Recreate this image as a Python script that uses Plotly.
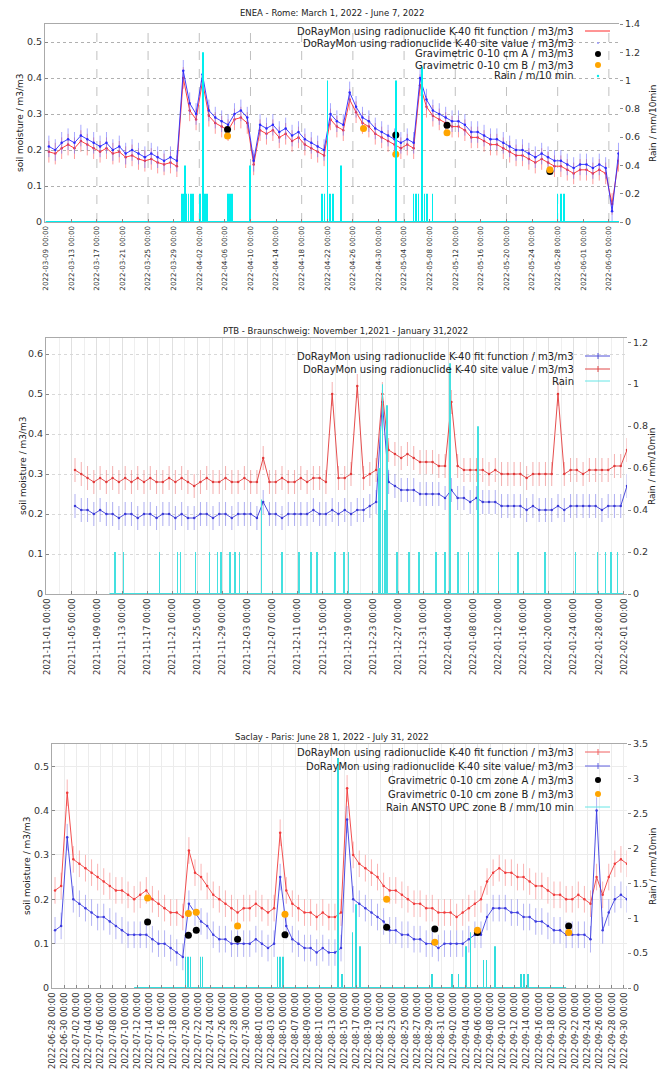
import plotly.graph_objects as go
import pandas as pd

W, H = 672, 1075

# ------------------------------------------------------------------ DATA
# Panel 1 : ENEA - Rome (daily readings, noon)
p1_dates = pd.date_range("2022-03-09 12:00", "2022-06-06 12:00", freq="D")
p1_site = (  # blue, site value
    [0.21, 0.20, 0.22, 0.23, 0.22, 0.24, 0.23, 0.22, 0.21, 0.22, 0.20, 0.21, 0.19, 0.20, 0.19,
     0.18, 0.19, 0.18, 0.17, 0.18, 0.17, 0.42, 0.33]  # Mar 9-31
    + [0.30, 0.41, 0.31, 0.29, 0.28, 0.27, 0.30, 0.31, 0.29, 0.17, 0.27, 0.26, 0.27, 0.25, 0.26,
       0.24, 0.25, 0.23, 0.22, 0.21, 0.20, 0.30, 0.28, 0.27, 0.36, 0.32, 0.29, 0.28, 0.26, 0.25]  # Apr
    + [0.24, 0.23, 0.22, 0.23, 0.22, 0.40, 0.34, 0.31, 0.30, 0.29, 0.28, 0.28, 0.27, 0.25, 0.25,
       0.24, 0.23, 0.23, 0.22, 0.21, 0.20, 0.20, 0.19, 0.18, 0.19, 0.18, 0.17, 0.17, 0.16, 0.15,
       0.16]  # May
    + [0.16, 0.15, 0.16, 0.15, 0.03, 0.19]  # Jun 1-6
)
p1_fit = (  # red, fit function
    [0.195, 0.19, 0.205, 0.215, 0.205, 0.225, 0.215, 0.205, 0.195, 0.205, 0.19, 0.195, 0.18, 0.185,
     0.175, 0.17, 0.175, 0.165, 0.16, 0.165, 0.155, 0.40, 0.31]
    + [0.285, 0.39, 0.295, 0.275, 0.265, 0.255, 0.285, 0.29, 0.275, 0.16, 0.255, 0.245, 0.255, 0.235,
       0.245, 0.225, 0.235, 0.215, 0.205, 0.195, 0.185, 0.285, 0.265, 0.255, 0.34, 0.305, 0.275,
       0.265, 0.245, 0.235]
    + [0.225, 0.215, 0.205, 0.215, 0.205, 0.38, 0.32, 0.295, 0.285, 0.275, 0.265, 0.265, 0.255,
       0.235, 0.235, 0.225, 0.215, 0.215, 0.205, 0.195, 0.185, 0.185, 0.175, 0.165, 0.175, 0.165,
       0.155, 0.155, 0.145, 0.135, 0.145]
    + [0.145, 0.135, 0.145, 0.135, 0.05, 0.17]
)
p1_gravA_dates = ["2022-04-06 10:00", "2022-05-02 17:00", "2022-05-10 17:00", "2022-05-26 19:00"]
p1_gravA = [0.257, 0.242, 0.269, 0.140]
p1_gravB_dates = ["2022-04-06 10:00", "2022-04-27 16:00", "2022-05-02 17:00", "2022-05-10 17:00",
                  "2022-05-26 19:00"]
p1_gravB = [0.239, 0.260, 0.188, 0.248, 0.145]
p1_rain_times = ["2022-03-30 06:00", "2022-03-30 12:00", "2022-03-30 18:00", "2022-03-31 00:00",
                 "2022-03-31 08:00", "2022-03-31 16:00", "2022-04-01 00:00", "2022-04-02 02:00",
                 "2022-04-02 14:00", "2022-04-02 22:00", "2022-04-03 05:00", "2022-04-06 12:00",
                 "2022-04-06 20:00", "2022-04-07 02:00", "2022-04-09 22:00", "2022-04-21 05:00",
                 "2022-04-21 14:00", "2022-04-22 01:00", "2022-04-22 10:00", "2022-04-22 22:00",
                 "2022-04-24 03:00", "2022-05-02 17:00", "2022-05-05 12:00", "2022-05-05 20:00",
                 "2022-05-06 06:00", "2022-05-06 19:00", "2022-05-07 04:00", "2022-05-07 14:00",
                 "2022-05-08 10:00", "2022-05-28 00:00", "2022-05-28 12:00", "2022-05-29 00:00"]
p1_rain = [0.2, 0.2, 0.4, 0.2, 0.2, 0.2, 0.2, 0.2, 1.2, 0.2, 0.2, 0.2, 0.2, 0.2, 0.4, 0.2,
           0.2, 1.0, 0.2, 0.2, 0.4, 1.0, 0.2, 0.2, 0.2, 1.1, 0.2, 0.2, 0.2, 0.2, 0.2, 0.2]
p1_rain_span = ["2022-03-09 00:00", "2022-06-06 14:00"]

# Panel 2 : PTB - Braunschweig
p2_dates = pd.date_range("2021-11-05 12:00", "2022-02-01 12:00", freq="D")
p2_fit = (  # blue, fit function
    [0.22, 0.21, 0.21, 0.20, 0.21, 0.20, 0.20, 0.19, 0.20, 0.20, 0.19, 0.20, 0.20, 0.19, 0.20,
     0.20, 0.19, 0.20, 0.19, 0.19, 0.20, 0.20, 0.19, 0.20, 0.20, 0.19]  # Nov 5-30
    + [0.20, 0.20, 0.20, 0.19, 0.23, 0.20, 0.20, 0.19, 0.20, 0.20, 0.20, 0.20, 0.21, 0.20, 0.20,
       0.21, 0.20, 0.21, 0.20, 0.21, 0.21, 0.22, 0.23, 0.48, 0.28, 0.27, 0.26, 0.26, 0.26, 0.25,
       0.25]  # Dec
    + [0.25, 0.25, 0.24, 0.26, 0.24, 0.24, 0.23, 0.24, 0.23, 0.23, 0.23, 0.22, 0.22, 0.22, 0.22,
       0.21, 0.22, 0.21, 0.21, 0.21, 0.22, 0.21, 0.22, 0.22, 0.22, 0.22, 0.22, 0.21, 0.22, 0.22,
       0.22]  # Jan
    + [0.27]
)
p2_site = (  # red, site value
    [0.31, 0.30, 0.29, 0.28, 0.29, 0.28, 0.29, 0.28, 0.29, 0.28, 0.29, 0.28, 0.29, 0.28, 0.28,
     0.29, 0.28, 0.29, 0.28, 0.27, 0.28, 0.29, 0.28, 0.28, 0.29, 0.28]
    + [0.28, 0.29, 0.28, 0.28, 0.34, 0.28, 0.28, 0.29, 0.28, 0.28, 0.29, 0.28, 0.29, 0.29, 0.28,
       0.50, 0.29, 0.29, 0.30, 0.52, 0.29, 0.30, 0.31, 0.50, 0.36, 0.35, 0.34, 0.35, 0.34, 0.33,
       0.33]
    + [0.33, 0.32, 0.32, 0.48, 0.32, 0.31, 0.31, 0.31, 0.31, 0.30, 0.31, 0.30, 0.30, 0.30, 0.30,
       0.29, 0.30, 0.30, 0.30, 0.30, 0.50, 0.30, 0.31, 0.31, 0.30, 0.31, 0.31, 0.31, 0.31, 0.32,
       0.32]
    + [0.36]
)
p2_rain_times = ["2021-11-11 20:00", "2021-11-13 06:00", "2021-11-18 23:00", "2021-11-21 20:00",
                 "2021-11-22 07:00", "2021-11-24 17:00", "2021-11-26 22:00", "2021-11-28 05:00",
                 "2021-11-28 19:00", "2021-11-30 06:00", "2021-12-01 01:00", "2021-12-01 17:00",
                 "2021-12-05 05:00", "2021-12-08 12:00", "2021-12-11 05:00", "2021-12-13 02:00",
                 "2021-12-14 01:00", "2021-12-16 22:00", "2021-12-18 08:00", "2021-12-19 03:00",
                 "2021-12-23 22:00", "2021-12-24 05:00", "2021-12-24 12:00", "2021-12-24 21:00",
                 "2021-12-25 05:00", "2021-12-26 19:00", "2021-12-28 17:00", "2021-12-30 07:00",
                 "2022-01-02 00:00", "2022-01-03 12:00", "2022-01-04 07:00", "2022-01-05 14:00",
                 "2022-01-07 05:00", "2022-01-08 19:00", "2022-01-12 00:00", "2022-01-15 02:00",
                 "2022-01-19 10:00", "2022-01-24 07:00", "2022-01-27 19:00", "2022-01-29 02:00",
                 "2022-01-30 00:00", "2022-01-31 00:00"]
p2_rain = [0.2, 0.2, 0.2, 0.2, 0.2, 0.2, 0.2, 0.2, 0.2, 0.2, 0.2, 0.2, 0.45, 0.2, 0.2, 0.2,
           0.2, 0.2, 0.2, 0.2, 0.6, 0.8, 1.0, 0.4, 0.9, 0.2, 0.2, 0.2, 0.2, 0.2, 1.1, 0.2,
           0.2, 0.8, 0.2, 0.2, 0.2, 0.2, 0.2, 0.2, 0.2, 0.2]
p2_rain_span = ["2021-11-11 00:00", "2022-02-01 00:00"]

# Panel 3 : Saclay - Paris
p3_dates = pd.date_range("2022-06-28 12:00", "2022-09-30 12:00", freq="D")
p3_fit = (  # red, fit function
    [0.22, 0.23, 0.44]
    + [0.29, 0.28, 0.27, 0.26, 0.25, 0.24, 0.23, 0.22, 0.22, 0.21, 0.20, 0.21, 0.22, 0.20, 0.19,
       0.18, 0.17, 0.17, 0.16, 0.31, 0.26, 0.25, 0.23, 0.21, 0.20, 0.19, 0.18, 0.17, 0.18, 0.18,
       0.19]
    + [0.18, 0.17, 0.18, 0.35, 0.22, 0.19, 0.18, 0.17, 0.17, 0.16, 0.17, 0.16, 0.16, 0.17, 0.45,
       0.30, 0.28, 0.27, 0.26, 0.25, 0.23, 0.22, 0.22, 0.21, 0.20, 0.19, 0.19, 0.18, 0.18, 0.17,
       0.17]
    + [0.17, 0.16, 0.17, 0.18, 0.19, 0.20, 0.24, 0.26, 0.27, 0.26, 0.26, 0.25, 0.25, 0.24, 0.23,
       0.23, 0.22, 0.21, 0.21, 0.20, 0.20, 0.21, 0.20, 0.19, 0.25, 0.21, 0.25, 0.28, 0.29, 0.28]
)
p3_site = (  # blue, site value
    [0.13, 0.14, 0.34]
    + [0.20, 0.19, 0.18, 0.17, 0.16, 0.16, 0.15, 0.14, 0.13, 0.12, 0.12, 0.12, 0.12, 0.11, 0.10,
       0.10, 0.09, 0.08, 0.07, 0.19, 0.17, 0.15, 0.14, 0.12, 0.11, 0.11, 0.10, 0.10, 0.10, 0.10,
       0.11]
    + [0.10, 0.09, 0.10, 0.25, 0.14, 0.11, 0.10, 0.09, 0.09, 0.08, 0.09, 0.08, 0.08, 0.09, 0.38,
       0.20, 0.19, 0.18, 0.17, 0.16, 0.15, 0.13, 0.13, 0.12, 0.12, 0.11, 0.11, 0.10, 0.10, 0.09,
       0.10]
    + [0.10, 0.10, 0.10, 0.11, 0.12, 0.12, 0.16, 0.18, 0.18, 0.18, 0.17, 0.17, 0.16, 0.16, 0.15,
       0.15, 0.14, 0.13, 0.13, 0.12, 0.12, 0.12, 0.12, 0.11, 0.40, 0.13, 0.17, 0.20, 0.21, 0.20]
)
p3_grav_dates = ["2022-07-13 17:00", "2022-07-20 10:00", "2022-07-21 17:00", "2022-07-28 12:00",
                 "2022-08-05 07:00", "2022-08-22 00:00", "2022-08-29 22:00", "2022-09-05 22:00",
                 "2022-09-20 22:00"]
p3_gravA = [0.149, 0.119, 0.130, 0.110, 0.120, 0.137, 0.133, 0.125, 0.140]
p3_gravB = [0.203, 0.168, 0.171, 0.140, 0.166, 0.200, 0.103, 0.130, 0.125]
p3_rain_times = ["2022-07-19 23:00", "2022-07-20 08:00", "2022-07-20 19:00", "2022-07-22 10:00",
                 "2022-07-22 17:00", "2022-08-04 02:00", "2022-08-04 12:00", "2022-08-04 22:00",
                 "2022-08-14 00:00", "2022-08-14 15:00", "2022-08-16 10:00", "2022-08-16 22:00",
                 "2022-08-17 14:00", "2022-08-29 10:00", "2022-09-01 17:00", "2022-09-02 19:00",
                 "2022-09-04 02:00", "2022-09-04 19:00", "2022-09-06 22:00", "2022-09-07 10:00",
                 "2022-09-08 19:00", "2022-09-13 02:00", "2022-09-13 14:00", "2022-09-14 05:00"]
p3_rain = [0.45, 0.45, 0.45, 0.45, 0.45, 0.45, 0.45, 0.45, 3.3, 0.2, 0.8, 1.2, 0.6, 0.2, 0.2,
           0.2, 0.6, 0.8, 0.4, 0.4, 0.6, 0.2, 0.2, 0.2]
p3_rain_span = ["2022-07-11 12:00", "2022-09-20 12:00"]

assert len(p1_dates) == len(p1_site) == len(p1_fit)
assert len(p2_dates) == len(p2_site) == len(p2_fit)
assert len(p3_dates) == len(p3_site) == len(p3_fit)
assert len(p1_rain_times) == len(p1_rain)
assert len(p2_rain_times) == len(p2_rain)
assert len(p3_rain_times) == len(p3_rain)

UNC = 0.03  # plotted uncertainty of the DoRayMon values (m3/m3)

# ------------------------------------------------------------------ STYLE
FONT = "DejaVu Sans"
RED = "#ff2a2a"
BLUE = "#2a2aff"
CYAN = "#00eeee"
HOUR = 3600 * 1000


def fx(px):
    return px / W


def fy(py):
    return 1 - py / H


fig = go.Figure()


def soil(x, y, color, err_color, xa, ya):
    fig.add_trace(go.Scatter(
        x=x, y=y, mode="lines+markers", xaxis=xa, yaxis=ya, showlegend=False,
        line=dict(color=color, width=0.9),
        marker=dict(size=2.5, color=color),
        error_y=dict(type="constant", value=UNC, color=err_color, thickness=1, width=0)))


def rain(times, vals, span, color, xa, ya, bw):
    fig.add_trace(go.Scatter(x=span, y=[0, 0], mode="lines", xaxis=xa, yaxis=ya,
                             line=dict(color=color, width=2), showlegend=False))
    fig.add_trace(go.Bar(x=times, y=vals, xaxis=xa, yaxis=ya, width=bw * HOUR,
                         marker=dict(color=color, line=dict(width=0)), showlegend=False))


def grav(x, y, color, xa, ya):
    fig.add_trace(go.Scatter(x=x, y=y, mode="markers", xaxis=xa, yaxis=ya, showlegend=False,
                             marker=dict(size=7, color=color)))


# Panel 1
soil(p1_dates, p1_fit, RED, "rgba(255,90,90,0.6)", "x", "y")
soil(p1_dates, p1_site, BLUE, "rgba(110,110,255,0.6)", "x", "y")
grav(p1_gravA_dates, p1_gravA, "black", "x", "y")
grav(p1_gravB_dates, p1_gravB, "#ffa500", "x", "y")
rain(p1_rain_times, p1_rain, p1_rain_span, CYAN, "x", "y2", 2.5)

# Panel 2
soil(p2_dates, p2_fit, "#3a3ad8", "rgba(110,110,230,0.55)", "x2", "y3")
soil(p2_dates, p2_site, "#e23a3a", "rgba(235,110,110,0.55)", "x2", "y3")
rain(p2_rain_times, p2_rain, p2_rain_span, "#44e0e0", "x2", "y4", 2.5)

# Panel 3
soil(p3_dates, p3_fit, "#f03c3c", "rgba(245,120,120,0.55)", "x3", "y5")
soil(p3_dates, p3_site, "#3c3ce0", "rgba(120,120,235,0.55)", "x3", "y5")
grav(p3_grav_dates, p3_gravA, "black", "x3", "y5")
grav(p3_grav_dates, p3_gravB, "#ffa500", "x3", "y5")
rain(p3_rain_times, p3_rain, p3_rain_span, "#33dddd", "x3", "y6", 2.5)

# ------------------------------------------------------------------ AXES
tickfont_y = dict(family=FONT, size=9.5, color="#333")


def xaxis(dom, anchor, rng, ticks, fsize, grid, gridcolor="#e4e4e4", minor=None):
    d = dict(domain=dom, anchor=anchor, type="date", range=rng, tickmode="array",
             tickvals=ticks, tickformat="%Y-%m-%d %H:%M", tickangle=-90,
             tickfont=dict(family=FONT, size=fsize, color="#333"),
             ticks="inside", ticklen=3, tickcolor="#888",
             showline=True, mirror=True, linecolor="#aaaaaa", linewidth=1,
             showgrid=grid, gridcolor=gridcolor, zeroline=False, automargin=False)
    if minor:
        d["minor"] = minor
    return d


def yleft(dom, anchor, rng, dtick, gridcolor, griddash):
    return dict(domain=dom, anchor=anchor, range=rng, dtick=dtick, tick0=0,
                tickfont=tickfont_y, ticks="inside", ticklen=3, tickcolor="#888",
                showline=True, linecolor="#aaaaaa", showgrid=True, gridcolor=gridcolor,
                griddash=griddash, zeroline=False, automargin=False)


def yright(over, anchor, rng, dtick):
    return dict(overlaying=over, anchor=anchor, side="right", range=rng, dtick=dtick, tick0=0,
                tickfont=tickfont_y, ticks="outside", ticklen=3, tickcolor="#888",
                showgrid=False, zeroline=False, showline=False, automargin=False)


p1_ticks = pd.date_range("2022-03-09", "2022-06-05", freq="4D")
p2_ticks = pd.date_range("2021-11-01", "2022-02-01", freq="4D")
p3_ticks = pd.date_range("2022-06-28", "2022-09-30", freq="2D")

fig.update_layout(
    width=W, height=H, margin=dict(l=0, r=0, t=0, b=0),
    paper_bgcolor="white", plot_bgcolor="white", showlegend=False, barmode="overlay",
    xaxis=xaxis([fx(45), fx(619)], "y", ["2022-03-08 21:30", "2022-06-06 14:00"], p1_ticks, 7.2,
                False),
    yaxis=yleft([fy(222), fy(24)], "x", [0, 0.55], 0.1, "#b0b0b0", "dot"),
    yaxis2=yright("y", "x", [0, 1.4], 0.2),
    xaxis2=xaxis([fx(46), fx(627)], "y3", ["2021-10-31 21:00", "2022-02-01 12:00"], p2_ticks, 8.5,
                 True, "#e0e0e0",
                 minor=dict(dtick=2 * 86400000, tick0="2021-11-01", showgrid=True,
                            gridcolor="#efefef", ticklen=0)),
    yaxis3=yleft([fy(594), fy(338)], "x2", [0, 0.64], 0.1, "#d8d8d8", "dot"),
    yaxis4=yright("y3", "x2", [0, 1.22], 0.2),
    xaxis3=xaxis([fx(52), fx(627)], "y5", ["2022-06-28 00:00", "2022-09-30 12:00"], p3_ticks, 8.5,
                 True, "#ececec"),
    yaxis5=yleft([fy(988), fy(744)], "x3", [0, 0.55], 0.1, "#ececec", "solid"),
    yaxis6=yright("y5", "x3", [0, 3.5], 0.5),
)

# dashed vertical grid of panel 1 (every 8 days)
shapes = []
for d in pd.date_range("2022-03-17", "2022-06-05", freq="8D"):
    shapes.append(dict(type="line", xref="x", yref="y domain", x0=d, x1=d, y0=0, y1=1,
                       line=dict(color="#c0c0c0", width=1, dash="dash"), layer="below"))

# ------------------------------------------------------------------ TEXT
annotations = []


def text(x, y, s, size=9, angle=0, xanchor="center", color="#222"):
    annotations.append(dict(xref="paper", yref="paper", x=fx(x), y=fy(y), text=s,
                            showarrow=False, textangle=angle, xanchor=xanchor, yanchor="middle",
                            font=dict(family=FONT, size=size, color=color)))


text(332, 13, "ENEA - Rome: March 1, 2022 - June 7, 2022", 8.5)
text(346, 331, "PTB - Braunschweig: November 1,2021 - January 31,2022", 8.5)
text(332, 737, "Saclay - Paris: June 28 1, 2022 - July 31, 2022", 8.5)

for yc, xl, xr in [(123, 20, 653), (466, 23, 652), (866, 27, 653)]:
    text(xl, yc, "soil moisture / m3/m3", 9, -90)
    text(xr, yc, "Rain / mm/10min", 9, -90)

# legends (right-aligned text, sample on the right)
TX, S0, S1, SC = 576, 585, 610, 598


def leg_line(y, label, color, dot=None):
    text(TX, y, label, 10, xanchor="right")
    shapes.append(dict(type="line", xref="paper", yref="paper", x0=fx(S0), x1=fx(S1),
                       y0=fy(y), y1=fy(y), line=dict(color=color, width=1)))
    if dot:
        shapes.append(dict(type="line", xref="paper", yref="paper", x0=fx(SC), x1=fx(SC),
                           y0=fy(y - 3), y1=fy(y + 3), line=dict(color=dot, width=1)))


def leg_dot(y, label, color, r=3):
    text(TX, y, label, 10, xanchor="right")
    shapes.append(dict(type="circle", xref="paper", yref="paper", x0=fx(SC - r), x1=fx(SC + r),
                       y0=fy(y + r), y1=fy(y - r), fillcolor=color, line=dict(width=0)))


leg_line(31, "DoRayMon using radionuclide K-40 fit function / m3/m3", RED)
leg_dot(43, "DoRayMon using radionuclide K-40 site value / m3/m3", "#9a9aff", 1)
leg_dot(54, "Gravimetric 0-10 cm A / m3/m3", "black")
leg_dot(65, "Gravimetric 0-10 cm B / m3/m3", "#ffa500")
leg_dot(76, "Rain / m/10 min", CYAN, 1.2)

leg_line(356, "DoRayMon using radionuclide K-40 fit function / m3/m3", "#5050d8", "#5050d8")
leg_line(369, "DoRayMon using radionuclide K-40 site value / m3/m3", "#e04848", "#e04848")
leg_line(381, "Rain", "#66e6e6")

leg_line(752, "DoRayMon using radionuclide K-40 fit function / m3/m3", "#f06060", "#f06060")
leg_line(766, "DoRayMon using radionuclide K-40 site value/ m3/m3", "#6060e0", "#6060e0")
leg_dot(780, "Gravimetric 0-10 cm zone A / m3/m3", "black")
leg_dot(794, "Gravimetric 0-10 cm zone B / m3/m3", "#ffa500")
leg_line(807, "Rain ANSTO UPC zone B / mm/10 min", "#66e6e6")

fig.update_layout(shapes=shapes, annotations=annotations)
fig.write_html("out.html")
